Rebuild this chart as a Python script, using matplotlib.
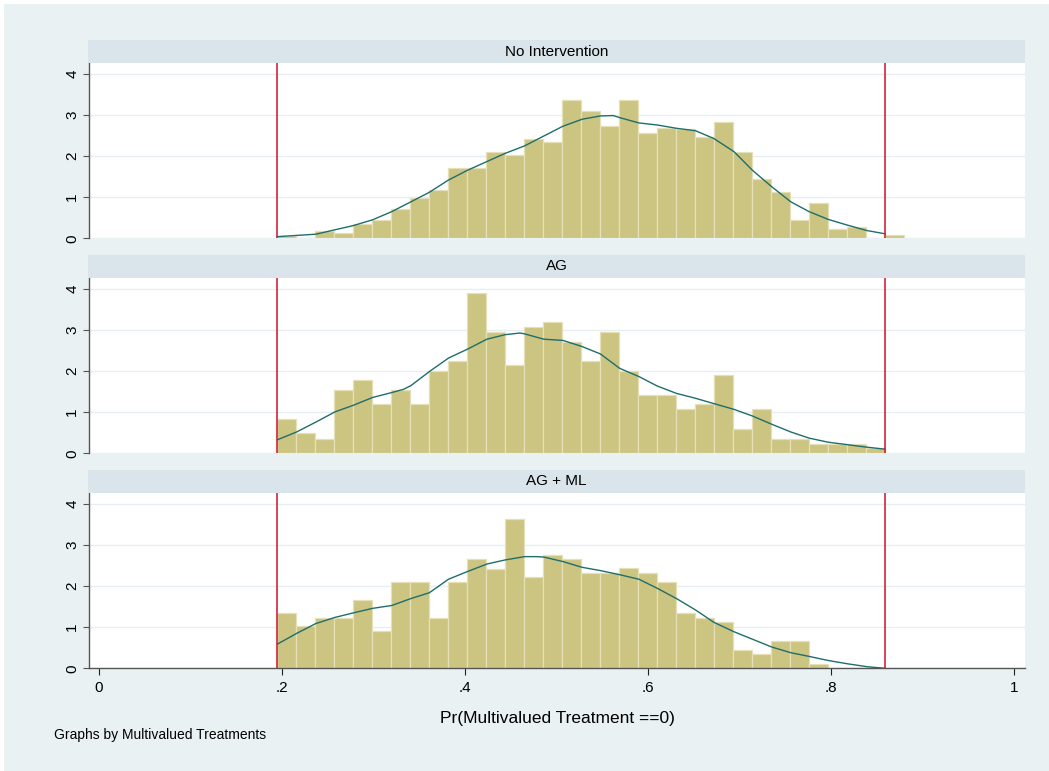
import numpy as np
import matplotlib
matplotlib.use("Agg")
import matplotlib.pyplot as plt
from matplotlib.patches import Rectangle

plt.rcParams['font.family'] = ['Liberation Sans', 'DejaVu Sans']

# common histogram bins (start of first bin, bin width)
bin_start = 0.1951
bin_width = 0.02075
support = (0.1951, 0.859)

groups = ["No Intervention", "AG", "AG + ML"]

dens_none = [0.05, 0.0, 0.18, 0.12, 0.34, 0.44, 0.71, 0.98, 1.18, 1.71, 1.71,
             2.09, 2.03, 2.41, 2.35, 3.37, 3.10, 2.73, 3.37, 2.57, 2.68, 2.67,
             2.46, 2.84, 2.09, 1.44, 1.13, 0.44, 0.86, 0.22, 0.27, 0.0, 0.07]
dens_ag = [0.84, 0.49, 0.36, 1.54, 1.78, 1.20, 1.54, 1.20, 2.01, 2.24, 3.91,
           2.95, 2.14, 3.08, 3.20, 2.71, 2.24, 2.95, 2.01, 1.43, 1.43, 1.07,
           1.20, 1.91, 0.60, 1.07, 0.36, 0.36, 0.23, 0.23, 0.23, 0.13]
dens_agml = [1.34, 1.02, 1.23, 1.23, 1.67, 0.90, 2.10, 2.10, 1.23, 2.10, 2.66,
             2.43, 3.64, 2.22, 2.77, 2.66, 2.32, 2.32, 2.44, 2.32, 2.10, 1.34,
             1.23, 1.12, 0.45, 0.35, 0.67, 0.67, 0.11]

kx_none = [0.195, 0.237, 0.278, 0.299, 0.320, 0.341, 0.361, 0.382, 0.403, 0.424,
           0.444, 0.465, 0.486, 0.507, 0.528, 0.548, 0.562, 0.569, 0.590, 0.610,
           0.631, 0.652, 0.672, 0.694, 0.714, 0.735, 0.756, 0.776, 0.797, 0.818,
           0.839, 0.859]
ky_none = [0.04, 0.10, 0.31, 0.45, 0.65, 0.89, 1.12, 1.42, 1.66, 1.87,
           2.07, 2.25, 2.49, 2.73, 2.90, 2.98, 2.99, 2.94, 2.81, 2.76,
           2.68, 2.62, 2.43, 2.11, 1.66, 1.26, 0.89, 0.65, 0.46, 0.32,
           0.19, 0.11]
kx_ag = [0.195, 0.216, 0.237, 0.258, 0.278, 0.299, 0.320, 0.333, 0.341, 0.361,
         0.382, 0.403, 0.424, 0.444, 0.460, 0.465, 0.486, 0.507, 0.528, 0.548,
         0.569, 0.590, 0.610, 0.631, 0.652, 0.672, 0.694, 0.714, 0.735, 0.756,
         0.776, 0.797, 0.818, 0.839, 0.859]
ky_ag = [0.33, 0.52, 0.76, 1.01, 1.17, 1.36, 1.48, 1.56, 1.65, 1.99,
         2.32, 2.54, 2.78, 2.89, 2.93, 2.91, 2.78, 2.75, 2.60, 2.42,
         2.07, 1.87, 1.64, 1.46, 1.34, 1.21, 1.07, 0.91, 0.71, 0.52,
         0.37, 0.27, 0.21, 0.15, 0.10]
kx_agml = [0.195, 0.216, 0.237, 0.258, 0.278, 0.299, 0.320, 0.341, 0.361, 0.382,
           0.403, 0.424, 0.444, 0.465, 0.478, 0.486, 0.507, 0.528, 0.548, 0.569,
           0.590, 0.610, 0.631, 0.652, 0.672, 0.694, 0.714, 0.735, 0.756, 0.776,
           0.797, 0.818, 0.839, 0.859]
ky_agml = [0.59, 0.85, 1.09, 1.24, 1.35, 1.46, 1.53, 1.70, 1.84, 2.17,
           2.36, 2.54, 2.64, 2.72, 2.72, 2.71, 2.60, 2.46, 2.38, 2.28,
           2.17, 1.95, 1.70, 1.42, 1.12, 0.89, 0.71, 0.52, 0.38, 0.29,
           0.19, 0.11, 0.04, 0.00]

densities = [dens_none, dens_ag, dens_agml]
curves = [(kx_none, ky_none), (kx_ag, ky_ag), (kx_agml, ky_agml)]

xticks = [0, 0.2, 0.4, 0.6, 0.8, 1]
xticklabels = ["0", ".2", ".4", ".6", ".8", "1"]
yticks = [0, 1, 2, 3, 4]

W, H = 1049, 771
bg = "#EAF1F3"
strip_col = "#D9E5EA"
bar_col = "#CCC481"
bar_edge = "#E6E0B8"
kde_col = "#1E6E6C"
red = "#D0102E"
axis_col = "#555555"

fig = plt.figure(figsize=(W / 100, H / 100), dpi=100, facecolor="white")
fig.patches.append(Rectangle((4 / W, 0), 1, 1 - 4 / H, transform=fig.transFigure,
                             facecolor=bg, edgecolor="none", zorder=-10))


def px_box(left, top, right, bottom):
    return [left / W, 1 - bottom / H, (right - left) / W, (bottom - top) / H]


left_px, right_px = 89, 1025
panel_tops = [63, 278, 493]
panel_h = 175.3

for i, (name, dens, (kx, ky)) in enumerate(zip(groups, densities, curves)):
    top = panel_tops[i]
    ax = fig.add_axes(px_box(left_px, top, right_px, top + panel_h))
    ax.set_facecolor("white")

    edges = bin_start + bin_width * np.arange(len(dens))
    ax.bar(edges, dens, width=bin_width, align="edge", color=bar_col,
           edgecolor=bar_edge, linewidth=0.9, zorder=2)
    ax.plot(kx, ky, color=kde_col, linewidth=1.0, zorder=3)
    for xv in support:
        ax.axvline(xv, color=red, linewidth=1.1, zorder=4)

    ax.set_xlim(-0.0109, 1.012)
    ax.set_ylim(0, 4.27)
    ax.set_yticks(yticks)
    ax.set_yticklabels([str(v) for v in yticks], rotation=90, va="center",
                       fontsize=11)
    ax.grid(axis="y", color="#E6EEF1", linewidth=1.0, zorder=0)
    ax.set_axisbelow(True)
    ax.tick_params(axis="y", length=4, width=0.8, color=axis_col, pad=3)
    for s in ["top", "right"]:
        ax.spines[s].set_visible(False)
    ax.spines["left"].set_color(axis_col)
    ax.spines["left"].set_linewidth(1.0)

    if i < 2:
        ax.spines["bottom"].set_visible(False)
        ax.set_xticks([])
    else:
        ax.spines["bottom"].set_color(axis_col)
        ax.spines["bottom"].set_linewidth(1.0)
        ax.set_xticks(xticks)
        ax.set_xticklabels(xticklabels, fontsize=11)
        ax.tick_params(axis="x", length=5, width=0.8, color="#222222", pad=4)
        ax.set_xlabel("Pr(Multivalued Treatment ==0)", fontsize=12.5, labelpad=12)

    # group title strip
    sax = fig.add_axes(px_box(88, top - 23, right_px, top))
    sax.set_facecolor(strip_col)
    sax.set_xticks([])
    sax.set_yticks([])
    for s in sax.spines.values():
        s.set_visible(False)
    sax.text(0.5, 0.5, name, ha="center", va="center", fontsize=11,
             transform=sax.transAxes)

fig.text(54 / W, 1 - 735 / H, "Graphs by Multivalued Treatments",
         ha="left", va="center", fontsize=10)

fig.savefig("out.png", dpi=100, facecolor=fig.get_facecolor())
